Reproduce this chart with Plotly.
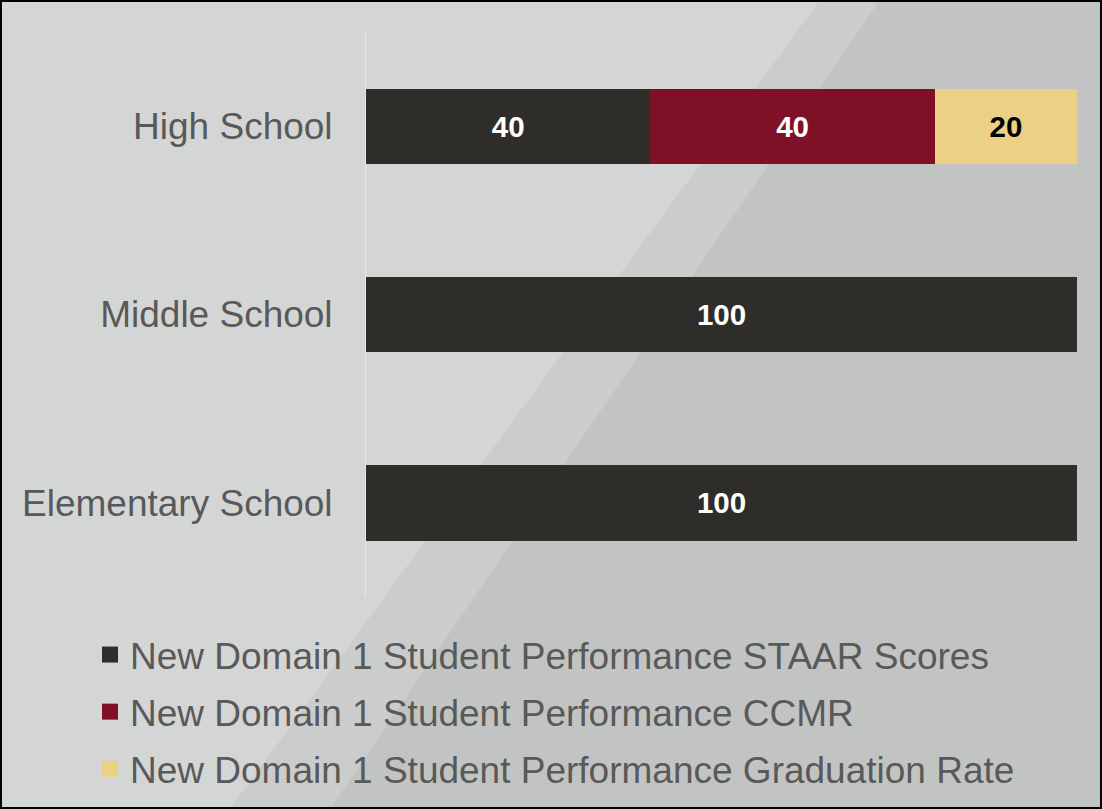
import plotly.graph_objects as go

categories = ["High School", "Middle School", "Elementary School"]
series_names = [
    "New Domain 1 Student Performance STAAR Scores",
    "New Domain 1 Student Performance CCMR",
    "New Domain 1 Student Performance Graduation Rate",
]
staar = [40, 100, 100]
ccmr = [40, None, None]
grad = [20, None, None]
colors = ["#2f2d29", "#7f1126", "#ecd085"]
text_colors = ["white", "white", "black"]

W, H = 1102, 809
ml, mr, mt, mb = 366, 25, 32, 212
pw, ph = W - ml - mr, H - mt - mb


def px_to_paper(px, py):
    return (px - ml) / pw, (H - mb - py) / ph


fig = go.Figure()
for name, vals, c, tc in zip(series_names, [staar, ccmr, grad], colors, text_colors):
    fig.add_trace(go.Bar(
        y=categories, x=vals, orientation="h", name=name,
        marker=dict(color=c, line=dict(width=0)),
        text=[("" if v is None else str(v)) for v in vals],
        textposition="inside", insidetextanchor="middle",
        textfont=dict(family="Liberation Sans", size=29.5, color=tc, weight="bold"),
        showlegend=False, hoverinfo="x+name", legendgroup=name,
    ))
# legend entries
for name, c in zip(series_names, colors):
    fig.add_trace(go.Scatter(
        x=[None], y=[None], mode="markers", name=name, legendgroup=name,
        marker=dict(symbol="square", size=18, color=c),
        showlegend=True,
    ))

shapes = []
# darker mesh region approximation (soft, two layers)
for pts, alpha in [
    ([(820, 0), (1102, 0), (1102, 809), (230, 809)], 0.10),
    ([(880, 0), (1102, 0), (1102, 809), (330, 809)], 0.12),
]:
    path = "M " + " L ".join(
        f"{px_to_paper(x, y)[0]:.4f},{px_to_paper(x, y)[1]:.4f}" for x, y in pts) + " Z"
    shapes.append(dict(type="path", xref="paper", yref="paper", path=path,
                       fillcolor=f"rgba(130,130,130,{alpha})", line=dict(width=0), layer="below"))
# border
x0, y0 = px_to_paper(1, 808)
x1, y1 = px_to_paper(1101, 1)
shapes.append(dict(type="rect", xref="paper", yref="paper", x0=x0, y0=y0, x1=x1, y1=y1,
                   line=dict(color="black", width=2), layer="above"))

fig.update_layout(
    width=W, height=H,
    margin=dict(l=ml, r=mr, t=mt, b=mb, autoexpand=False),
    paper_bgcolor="#d4d6d5", plot_bgcolor="rgba(0,0,0,0)",
    barmode="stack", bargap=0.6,
    font=dict(family="Liberation Sans", color="#595959"),
    xaxis=dict(range=[0, 100], showgrid=False, zeroline=False, showticklabels=False,
               showline=False, fixedrange=True),
    yaxis=dict(categoryorder="array", categoryarray=categories[::-1],
               showgrid=False, zeroline=False, showline=True, linecolor="#e6e7e7", linewidth=1,
               ticks="", ticklabelstandoff=25,
               tickfont=dict(size=37, color="#595959", family="Liberation Sans")),
    legend=dict(xref="container", yref="container", x=90 / W, y=1 - 624 / H,
                xanchor="left", yanchor="top", orientation="v",
                font=dict(size=37, color="#595959", family="Liberation Sans"),
                bgcolor="rgba(0,0,0,0)", tracegroupgap=6, traceorder="grouped"),
    shapes=shapes,
)

fig.write_html("out.html", config={"displayModeBar": False},
               post_script="document.body.style.margin='0';document.body.style.padding='0';")
